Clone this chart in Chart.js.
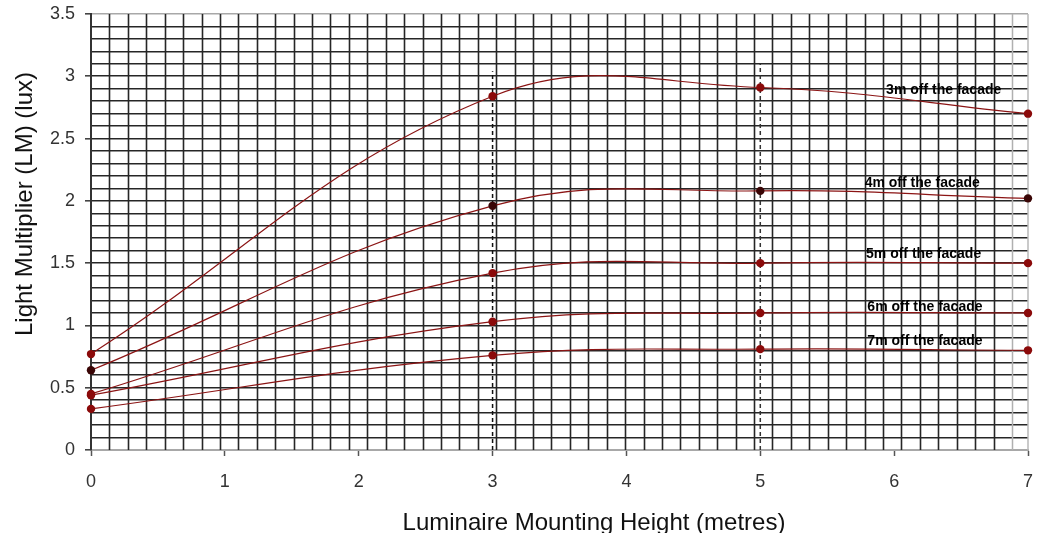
<!DOCTYPE html>
<html>
<head>
<meta charset="utf-8">
<script src="https://cdn.jsdelivr.net/npm/chart.js@4.4.1/dist/chart.umd.min.js"></script>
<style>
  html, body { margin: 0; padding: 0; background: #ffffff; }
  #wrap { width: 1042px; height: 533px; position: relative; }
</style>
</head>
<body>
<div id="wrap"><canvas id="c" width="1042" height="533"></canvas></div>
<script>
// ---- data ----
const heights = [0, 3, 5, 7];
const lm3m = [0.77, 2.84, 2.91, 2.70];
const lm4m = [0.64, 1.96, 2.08, 2.02];
const lm5m = [0.45, 1.42, 1.50, 1.50];
const lm6m = [0.44, 1.03, 1.10, 1.10];
const lm7m = [0.33, 0.76, 0.81, 0.80];
const seriesNames = ['3m off the facade', '4m off the facade', '5m off the facade', '6m off the facade', '7m off the facade'];
const refLineX = [3, 5];
const refLineTop = [3.04, 3.1];
const xTickValues = [0, 1, 2, 3, 4, 5, 6, 7];
const yTickValues = [0, 0.5, 1, 1.5, 2, 2.5, 3, 3.5];

// ---- presentation ----
const lineColor = '#8b1414';
const markerColors = ['#8b0a0a', '#3a0606', '#8b0a0a', '#8b0a0a', '#8b0a0a'];
const labelAnchors = [[5.94, 2.89], [5.78, 2.145], [5.79, 1.573], [5.80, 1.15], [5.80, 0.877]];
const gridStepX = 0.1376;

const allSeries = [lm3m, lm4m, lm5m, lm6m, lm7m];
const datasets = allSeries.map((vals, i) => ({
  label: seriesNames[i],
  data: heights.map((h, j) => ({ x: h, y: vals[j] })),
  borderColor: lineColor,
  borderWidth: 1.2,
  backgroundColor: markerColors[i],
  pointBackgroundColor: markerColors[i],
  pointBorderColor: markerColors[i],
  pointRadius: 4.2,
  pointBorderWidth: 0,
  tension: 0.4,
  fill: false,
  clip: false,
  order: 1
}));
refLineX.forEach((xv, i) => {
  datasets.push({
    label: 'ref' + i,
    data: [{ x: xv, y: 0 }, { x: xv, y: refLineTop[i] }],
    borderColor: i === 0 ? '#111111' : '#333333',
    borderWidth: 1.5,
    borderDash: [4, 3],
    pointRadius: 0,
    tension: 0,
    fill: false,
    order: 5
  });
});

const vGridPlugin = {
  id: 'vgrid',
  beforeDatasetsDraw(chart) {
    const { ctx, chartArea, scales } = chart;
    const xs = scales.x;
    ctx.save();
    const n = Math.floor(7 / gridStepX);
    for (let k = 1; k <= n; k++) {
      const px = Math.round(xs.getPixelForValue(k * gridStepX)) + 0.5;
      if (px > chartArea.right - 4) break;
      ctx.strokeStyle = (k >= 50) ? '#b0b0b0' : '#262626';
      ctx.lineWidth = (k >= 50) ? 1.5 : 1.6;
      ctx.beginPath();
      ctx.moveTo(px, chartArea.top);
      ctx.lineTo(px, chartArea.bottom);
      ctx.stroke();
    }
    const pr = xs.getPixelForValue(7);
    ctx.strokeStyle = '#b8b8b8';
    ctx.lineWidth = 1.5;
    ctx.beginPath();
    ctx.moveTo(pr, chartArea.top);
    ctx.lineTo(pr, chartArea.bottom);
    ctx.stroke();
    ctx.restore();
  }
};

const labelsPlugin = {
  id: 'seriesLabels',
  afterDatasetsDraw(chart) {
    const { ctx, scales } = chart;
    ctx.save();
    ctx.font = 'bold 14px "Liberation Sans", Arial, sans-serif';
    ctx.fillStyle = '#000000';
    ctx.textAlign = 'left';
    ctx.textBaseline = 'middle';
    seriesNames.forEach((name, i) => {
      const px = scales.x.getPixelForValue(labelAnchors[i][0]);
      const py = scales.y.getPixelForValue(labelAnchors[i][1]);
      ctx.fillText(name, px, py);
    });
    ctx.restore();
  }
};

const titlesPlugin = {
  id: 'titles',
  afterDraw(chart) {
    const { ctx } = chart;
    ctx.save();
    ctx.fillStyle = '#111111';
    ctx.font = '24px "Liberation Sans", Arial, sans-serif';
    ctx.textAlign = 'center';
    ctx.textBaseline = 'alphabetic';
    ctx.fillText('Luminaire Mounting Height (metres)', 594, 530);
    ctx.translate(32, 204);
    ctx.rotate(-Math.PI / 2);
    ctx.fillText('Light Multiplier (LM) (lux)', 0, 0);
    ctx.restore();
  }
};

new Chart(document.getElementById('c'), {
  type: 'line',
  data: { datasets },
  plugins: [vGridPlugin, labelsPlugin, titlesPlugin],
  options: {
    responsive: false,
    animation: false,
    devicePixelRatio: 1,
    layout: { padding: { left: 0, right: 14, top: 14, bottom: 0 } },
    plugins: { legend: { display: false }, tooltip: { enabled: false } },
    scales: {
      x: {
        type: 'linear',
        min: 0, max: 7,
        afterFit(scale) { scale.height = 83; scale.paddingLeft = 0; scale.paddingRight = 0; },
        afterBuildTicks(scale) { scale.ticks = xTickValues.map(v => ({ value: v })); },
        ticks: {
          color: '#333333',
          font: { family: '"Liberation Sans", Arial, sans-serif', size: 18 },
          padding: 15,
          maxRotation: 0,
          callback: v => String(v)
        },
        grid: {
          drawOnChartArea: false,
          drawTicks: true,
          tickLength: 6,
          tickColor: '#555555',
          tickWidth: 1.5
        },
        border: { display: true, color: '#a8a8a8', width: 2 }
      },
      y: {
        type: 'linear',
        min: 0, max: 3.5,
        afterFit(scale) { scale.width = 91; scale.paddingTop = 0; scale.paddingBottom = 0; },
        afterBuildTicks(scale) {
          const t = [];
          for (let i = 0; i <= 35; i++) t.push({ value: i / 10 });
          scale.ticks = t;
        },
        ticks: {
          color: '#333333',
          font: { family: '"Liberation Sans", Arial, sans-serif', size: 18 },
          padding: 10,
          autoSkip: false,
          callback: function (v) {
            const r = Math.round(v * 10);
            if (r % 5 !== 0) return '';
            return yTickValues.includes(r / 10) ? String(r / 10) : '';
          }
        },
        grid: {
          drawOnChartArea: true,
          tickLength: 6,
          lineWidth: 1.6,
          color: ctx => {
            const v = ctx.tick ? Math.round(ctx.tick.value * 10) : 0;
            if (v === 0 || v === 35) return '#a8a8a8';
            return '#262626';
          },
          tickColor: ctx => {
            const v = ctx.tick ? Math.round(ctx.tick.value * 10) : 1;
            return v % 5 === 0 ? '#444444' : 'rgba(0,0,0,0)';
          }
        },
        border: { display: true, color: '#333333', width: 2 }
      }
    }
  }
});
</script>
</body>
</html>
